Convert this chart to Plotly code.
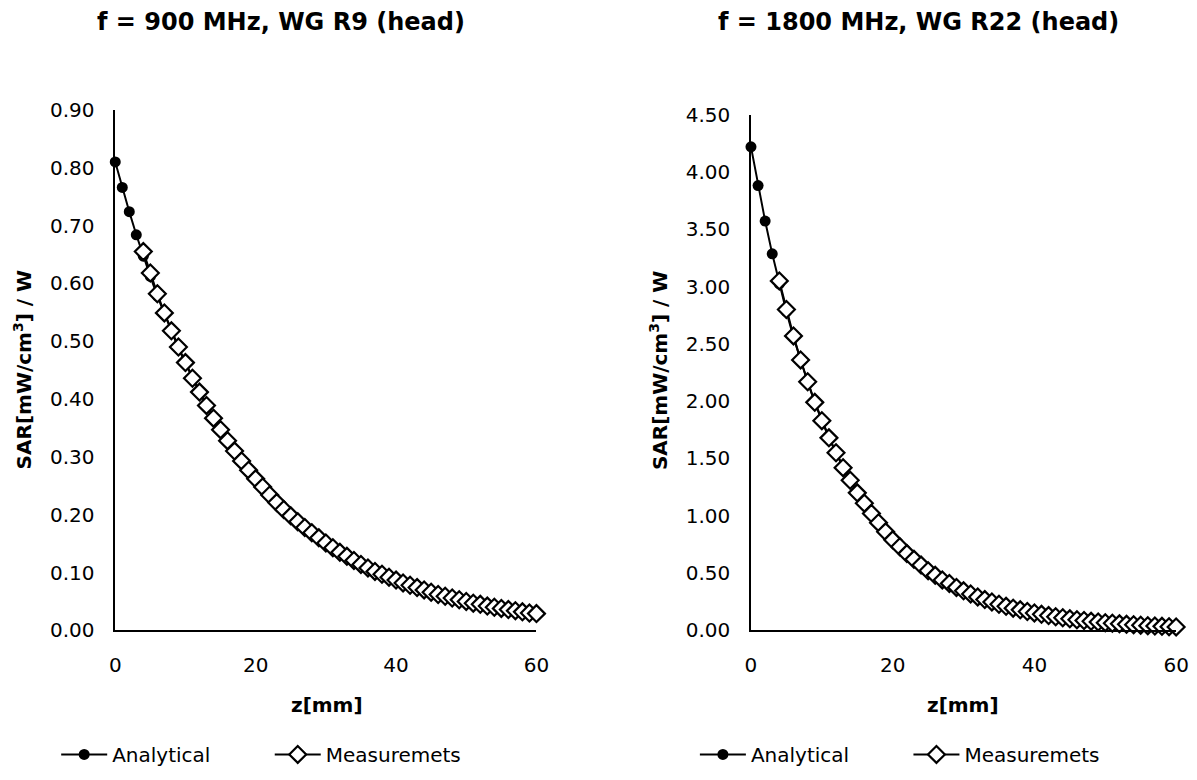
import plotly.graph_objects as go

# ---------------- data ----------------
z_analytical = list(range(0, 61))
z_measured = list(range(4, 61))

sar900_analytical = [
    0.810, 0.766, 0.724, 0.684, 0.647, 0.612, 0.578, 0.547, 0.517, 0.488,
    0.462, 0.437, 0.413, 0.390, 0.369, 0.349, 0.330, 0.312, 0.295, 0.278,
    0.263, 0.249, 0.235, 0.222, 0.210, 0.199, 0.188, 0.178, 0.168, 0.159,
    0.150, 0.142, 0.134, 0.127, 0.120, 0.113, 0.107, 0.101, 0.096, 0.091,
    0.086, 0.081, 0.077, 0.072, 0.068, 0.065, 0.061, 0.058, 0.055, 0.052,
    0.049, 0.046, 0.044, 0.041, 0.039, 0.037, 0.035, 0.033, 0.031, 0.029,
    0.028]
sar900_measured = [
    0.655, 0.618, 0.582, 0.549, 0.518, 0.490, 0.463, 0.436, 0.412, 0.389,
    0.367, 0.347, 0.328, 0.310, 0.293, 0.277, 0.262, 0.248, 0.234, 0.221,
    0.209, 0.198, 0.188, 0.178, 0.169, 0.160, 0.151, 0.143, 0.135, 0.128,
    0.121, 0.114, 0.108, 0.102, 0.097, 0.092, 0.087, 0.082, 0.078, 0.074,
    0.070, 0.066, 0.062, 0.059, 0.056, 0.053, 0.050, 0.047, 0.045, 0.042,
    0.040, 0.038, 0.036, 0.034, 0.032, 0.030, 0.029]

sar1800_analytical = [
    4.220, 3.882, 3.572, 3.286, 3.023, 2.781, 2.559, 2.354, 2.166, 1.993,
    1.833, 1.687, 1.552, 1.428, 1.313, 1.208, 1.112, 1.023, 0.941, 0.866,
    0.796, 0.733, 0.674, 0.620, 0.571, 0.525, 0.483, 0.444, 0.409, 0.376,
    0.346, 0.318, 0.293, 0.269, 0.248, 0.228, 0.210, 0.193, 0.178, 0.163,
    0.150, 0.138, 0.127, 0.117, 0.108, 0.099, 0.091, 0.084, 0.077, 0.071,
    0.065, 0.060, 0.055, 0.051, 0.047, 0.043, 0.040, 0.036, 0.033, 0.031,
    0.028]
sar1800_measured = [
    3.050, 2.800, 2.570, 2.360, 2.170, 1.990, 1.830, 1.680, 1.550, 1.420,
    1.310, 1.200, 1.110, 1.020, 0.940, 0.860, 0.790, 0.730, 0.670, 0.620,
    0.570, 0.520, 0.480, 0.440, 0.410, 0.375, 0.345, 0.318, 0.292, 0.269,
    0.248, 0.228, 0.210, 0.194, 0.179, 0.165, 0.152, 0.140, 0.129, 0.119,
    0.110, 0.101, 0.093, 0.086, 0.079, 0.073, 0.067, 0.062, 0.057, 0.053,
    0.049, 0.045, 0.041, 0.038, 0.035, 0.032, 0.030]

titles = ["f = 900 MHz, WG R9 (head)", "f = 1800 MHz, WG R22 (head)"]
x_ticks = [0, 20, 40, 60]
y_ticks_900 = [0.0, 0.1, 0.2, 0.3, 0.4, 0.5, 0.6, 0.7, 0.8, 0.9]
y_ticks_1800 = [0.0, 0.5, 1.0, 1.5, 2.0, 2.5, 3.0, 3.5, 4.0, 4.5]

# ---------------- figure ----------------
W, H = 1197, 780
FONT = "DejaVu Sans, Liberation Sans, Arial, sans-serif"
fig = go.Figure()

def px(x):
    return x / W

def py(y):
    return 1 - y / H

panels = [
    dict(xa="x", ya="y", legs=("legend", "legend2"),
         an=sar900_analytical, me=sar900_measured),
    dict(xa="x2", ya="y2", legs=("legend3", "legend4"),
         an=sar1800_analytical, me=sar1800_measured),
]
for p in panels:
    fig.add_trace(go.Scatter(
        x=z_analytical, y=p["an"], name="Analytical", mode="lines+markers",
        line=dict(color="black", width=2),
        marker=dict(symbol="circle", size=11, color="black"),
        xaxis=p["xa"], yaxis=p["ya"], legend=p["legs"][0], cliponaxis=False,
        showlegend=True))
    fig.add_trace(go.Scatter(
        x=z_measured, y=p["me"], name="Measuremets", mode="lines+markers",
        line=dict(color="black", width=2),
        marker=dict(symbol="diamond", size=13, color="white",
                    line=dict(color="black", width=2.2)),
        xaxis=p["xa"], yaxis=p["ya"], legend=p["legs"][1], cliponaxis=False,
        showlegend=True))

axis_common = dict(showgrid=False, zeroline=False, showline=True,
                   linecolor="black", linewidth=1.5, ticks="",
                   tickfont=dict(family=FONT, size=20, color="black"))

legend_common = dict(orientation="h", yanchor="middle", xanchor="left",
                     font=dict(family=FONT, size=20, color="black"),
                     itemwidth=46, bgcolor="rgba(0,0,0,0)", borderwidth=0,
                     visible=True)

fig.update_layout(
    width=W, height=H,
    showlegend=True,
    margin=dict(l=0, r=0, t=0, b=0),
    paper_bgcolor="white", plot_bgcolor="white",
    font=dict(family=FONT, color="black"),
    xaxis=dict(domain=[px(111), px(539)], range=[0, 60], tickvals=x_ticks,
               anchor="y", ticklabelstandoff=16, **axis_common),
    yaxis=dict(domain=[py(638), py(101)], range=[0, 0.9], tickvals=y_ticks_900,
               tickformat=".2f", anchor="x", ticklabelstandoff=15, **axis_common),
    xaxis2=dict(domain=[px(757), px(1189)], range=[0, 60], tickvals=x_ticks,
                anchor="y2", ticklabelstandoff=16, **axis_common),
    yaxis2=dict(domain=[py(638), py(106)], range=[0, 4.5], tickvals=y_ticks_1800,
                tickformat=".2f", anchor="x2", ticklabelstandoff=15, **axis_common),
    legend=dict(x=px(51), y=py(766), **legend_common),
    legend2=dict(x=px(268), y=py(766), **legend_common),
    legend3=dict(x=px(700), y=py(766), **legend_common),
    legend4=dict(x=px(917), y=py(766), **legend_common),
)

annotations = [
    dict(text="<b>" + titles[0] + "</b>", x=px(279), y=py(10), size=24),
    dict(text="<b>" + titles[1] + "</b>", x=px(927), y=py(10), size=24),
    dict(text="<b>z[mm]</b>", x=px(326), y=py(715), size=20),
    dict(text="<b>z[mm]</b>", x=px(972), y=py(715), size=20),
]
for a in annotations:
    fig.add_annotation(xref="paper", yref="paper", showarrow=False,
                       xanchor="center", yanchor="middle",
                       x=a["x"], y=a["y"], text=a["text"],
                       font=dict(family=FONT, size=a["size"], color="black"))
for xpos, ypos in [(17, 369), (663, 369)]:
    fig.add_annotation(xref="paper", yref="paper", showarrow=False, textangle=-90,
                       xanchor="center", yanchor="middle",
                       x=px(xpos), y=py(ypos),
                       text="<b>SAR[mW/cm<sup>3</sup>] / W</b>",
                       font=dict(family=FONT, size=20, color="black"))

fig.write_html("out.html", config={"displayModeBar": False},
               post_script="document.body.style.margin='0';document.body.style.overflow='hidden';")
